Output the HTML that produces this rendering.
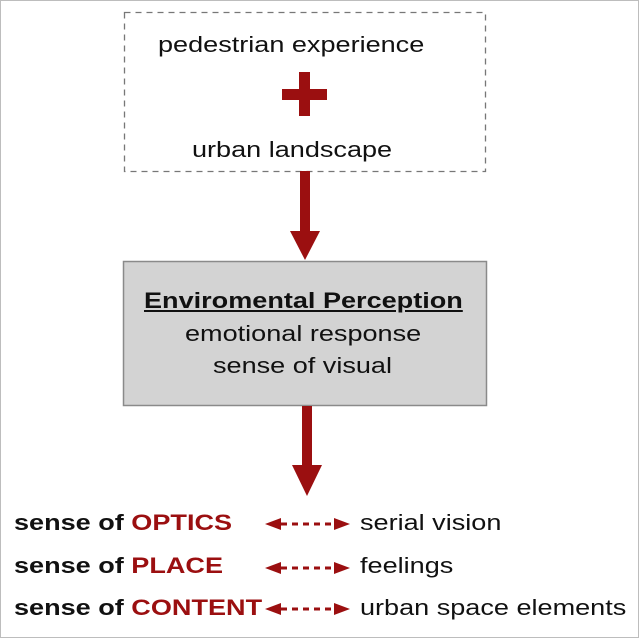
<!DOCTYPE html>
<html><head><meta charset="utf-8"><style>
html,body{margin:0;padding:0;background:#fff;}
body{width:639px;height:638px;position:relative;overflow:hidden;font-family:"Liberation Sans",Arial,sans-serif;}
.frame{position:absolute;left:0;top:0;width:637px;height:636px;border:1px solid #bdbdbd;}
.t{position:absolute;white-space:nowrap;color:#111;font-size:22px;transform:scaleX(1.23);transform-origin:0 0;}
.b{font-weight:bold;}
.r{color:#9b0f10;}
</style></head><body>
<div class="frame"></div>
<svg width="639" height="638" style="position:absolute;left:0;top:0">
<rect x="124.5" y="12.5" width="361" height="159" fill="none" stroke="#777" stroke-width="1.3" stroke-dasharray="6,5"/>
<rect x="282" y="89" width="45" height="11" fill="#9b0f10"/>
<rect x="299" y="72" width="11" height="44" fill="#9b0f10"/>
<rect x="300" y="171" width="10" height="61" fill="#9b0f10"/>
<polygon points="290,231 320,231 305,260" fill="#9b0f10"/>
<rect x="123.5" y="261.5" width="363" height="144" fill="#d3d3d3" stroke="#8a8a8a" stroke-width="1.5"/>
<rect x="302" y="406" width="10" height="60" fill="#9b0f10"/>
<polygon points="292,465 322,465 307,496" fill="#9b0f10"/>
<g fill="#9b0f10" stroke="#9b0f10">
<g transform="translate(0,524)">
<polygon points="265,0 281,-6 281,6" stroke="none"/><line x1="281" y1="0" x2="336" y2="0" stroke-width="3" stroke-dasharray="6,5"/><polygon points="350,0 334,-6 334,6" stroke="none"/></g>
<g transform="translate(0,568)">
<polygon points="265,0 281,-6 281,6" stroke="none"/><line x1="281" y1="0" x2="336" y2="0" stroke-width="3" stroke-dasharray="6,5"/><polygon points="350,0 334,-6 334,6" stroke="none"/></g>
<g transform="translate(0,609)">
<polygon points="265,0 281,-6 281,6" stroke="none"/><line x1="281" y1="0" x2="336" y2="0" stroke-width="3" stroke-dasharray="6,5"/><polygon points="350,0 334,-6 334,6" stroke="none"/></g>
</g>
</svg>
<div class="t" style="left:158px;top:32px">pedestrian experience</div>
<div class="t" style="left:192px;top:137px">urban landscape</div>
<div class="t b" style="left:144px;top:288px;text-decoration:underline;">Enviromental Perception</div>
<div class="t" style="left:185px;top:321px">emotional response</div>
<div class="t" style="left:213px;top:353px">sense of visual</div>
<div class="t b" style="left:14px;top:510px">sense of <span class="r">OPTICS</span></div>
<div class="t b" style="left:14px;top:553px">sense of <span class="r">PLACE</span></div>
<div class="t b" style="left:14px;top:595px">sense of <span class="r">CONTENT</span></div>
<div class="t" style="left:360px;top:510px">serial vision</div>
<div class="t" style="left:360px;top:553px">feelings</div>
<div class="t" style="left:360px;top:595px">urban space elements</div>
</body></html>
